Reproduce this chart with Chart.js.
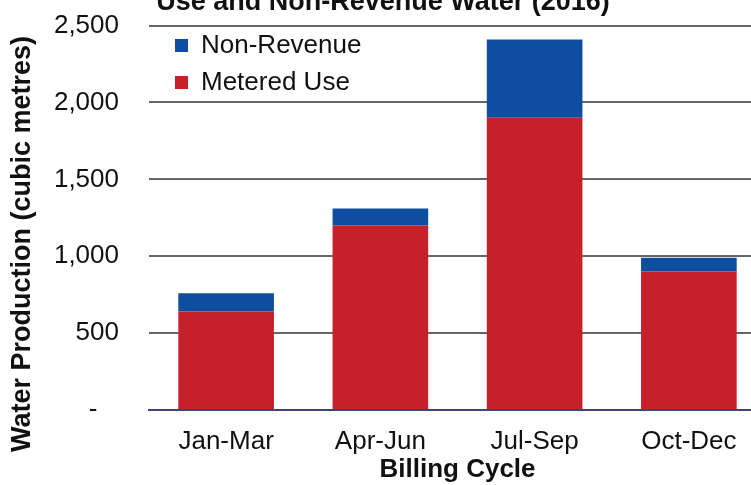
<!DOCTYPE html>
<html lang="en">
<head>
  <meta charset="UTF-8" />
  <title>Water Production 2016</title>
  <script src="https://cdn.jsdelivr.net/npm/chart.js"></script>
  <style>
    body {
      margin: 0;
      background: #ffffff;
      width: 751px;
      height: 485px;
      overflow: hidden;
      position: relative;
    }
    .wrap {
      position: absolute;
      left: 0;
      top: -20px;
      width: 766px;
      height: 505px;
    }
  </style>
</head>
<body>
  <div class="wrap">
    <canvas id="waterChart"></canvas>
  </div>
  <script>
    const cycles = ["Jan-Mar", "Apr-Jun", "Jul-Sep", "Oct-Dec"];
    const meteredUse = [640, 1200, 1900, 900];
    const nonRevenue = [120, 110, 510, 90];
    const yTicks = [0, 500, 1000, 1500, 2000, 2500];

    const font = "'Liberation Sans', Arial, sans-serif";

    // legend sits inside the plot, a bit in from the top-left corner
    const legendInside = {
      id: 'legendInside',
      afterUpdate(chart) {
        const l = chart.legend;
        if (!l) return;
        const dx = chart.chartArea.left + 15 - l.left;
        const dy = chart.chartArea.top - 4 - l.top;
        l.left += dx; l.right += dx;
        l.top += dy; l.bottom += dy;
        l.adjustHitBoxes();
      }
    };

    new Chart(document.getElementById("waterChart"), {
      type: 'bar',
      data: {
        labels: cycles,
        datasets: [
          {
            label: 'Metered Use',
            data: meteredUse,
            backgroundColor: '#c6202a'
          },
          {
            label: 'Non-Revenue',
            data: nonRevenue,
            backgroundColor: '#0e4ea0'
          }
        ]
      },
      plugins: [legendInside],
      options: {
        responsive: true,
        maintainAspectRatio: false,
        animation: false,
        categoryPercentage: 1,
        barPercentage: 0.62,
        layout: { padding: 0 },
        plugins: {
          title: {
            display: true,
            text: 'Use and Non-Revenue Water (2016)',
            color: '#111',
            font: { family: font, size: 27, weight: 'bold' },
            padding: { top: 3, bottom: 7 }
          },
          legend: {
            position: 'chartArea',
            align: 'start',
            reverse: true,
            labels: {
              boxWidth: 13,
              boxHeight: 13,
              padding: 11,
              color: '#111',
              font: { family: font, size: 26 }
            }
          },
          tooltip: { enabled: false }
        },
        scales: {
          x: {
            stacked: true,
            grid: { display: false, drawTicks: false },
            border: { display: true, color: '#3d4770', width: 2 },
            ticks: {
              color: '#111',
              padding: 16,
              font: { family: font, size: 26 }
            },
            title: {
              display: true,
              text: 'Billing Cycle',
              color: '#111',
              font: { family: font, size: 26, weight: 'bold' },
              padding: { top: 0, bottom: 0 }
            },
            afterFit: s => { s.height = 75; }
          },
          y: {
            stacked: true,
            min: 0,
            max: 2500,
            afterBuildTicks: s => { s.ticks = yTicks.map(v => ({ value: v })); },
            grid: { color: '#666666', lineWidth: 2, drawTicks: false },
            border: { display: false },
            ticks: {
              color: '#111',
              padding: 30,
              font: { family: font, size: 26 },
              callback: v => v === 0 ? '-   ' : v.toLocaleString('en-US')
            },
            title: {
              display: true,
              text: 'Water Production (cubic metres)       ',
              color: '#111',
              font: { family: font, size: 27, weight: 'bold' },
              padding: { top: 6, bottom: 0 }
            },
            afterFit: s => { s.width = 149; }
          }
        }
      }
    });
  </script>
</body>
</html>
